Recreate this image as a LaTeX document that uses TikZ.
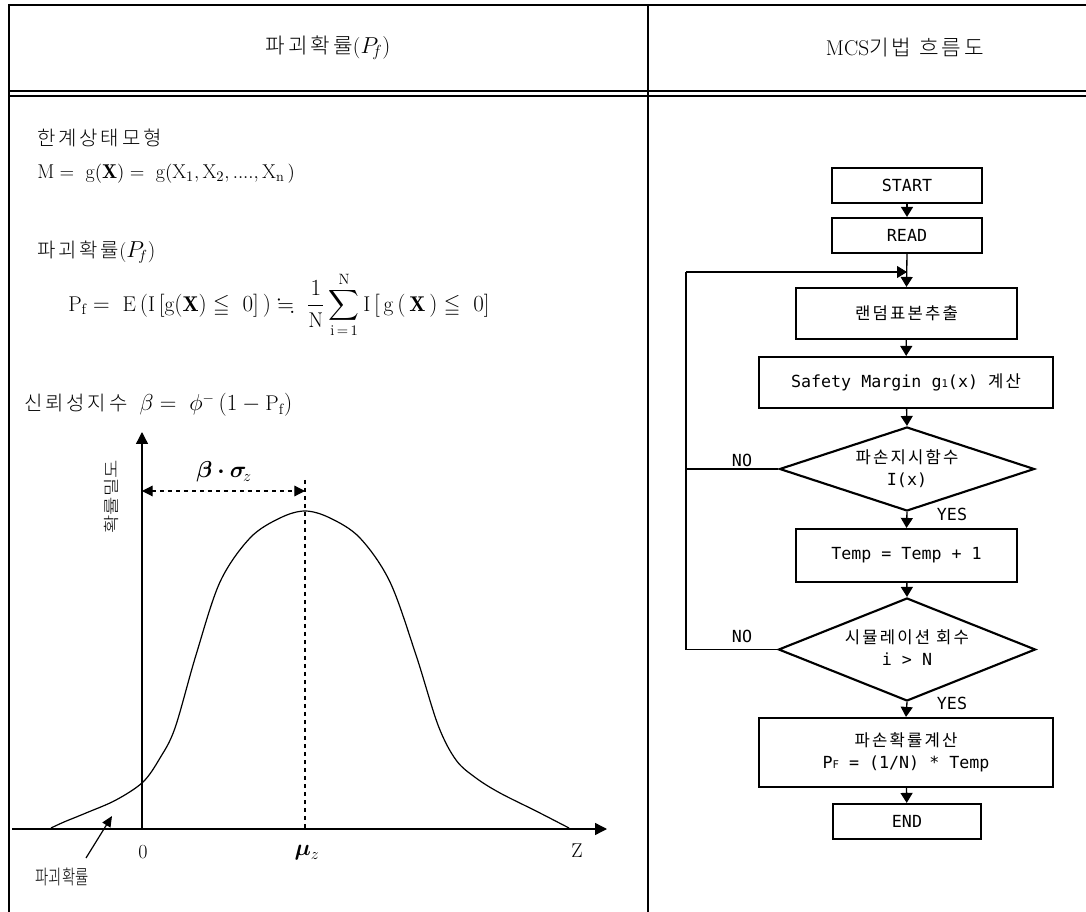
\documentclass[tikz,border=0pt]{standalone}
\usepackage{amsmath,amssymb,bm}
\usepackage{fontspec}
\newfontfamily\kr[LetterSpace=14]{Noto Sans CJK KR Light}
\newfontfamily\krn{Noto Sans CJK KR Light}
\newfontfamily\fk[LetterSpace=13]{Noto Sans CJK KR}
\newfontfamily\fm{DejaVu Sans Mono}
\usetikzlibrary{arrows.meta,shapes.geometric}
\begin{document}
\begin{tikzpicture}[x=0.75pt,y=-0.75pt,
  tblthick/.style={line width=2.2pt},
  tblthin/.style={line width=0.9pt},
  txt/.style={inner sep=0pt,font=\fontsize{15}{18}\selectfont},
  hdr/.style={inner sep=0pt,font=\fontsize{16}{19}\selectfont},
  mth/.style={inner sep=0pt,font=\fontsize{15}{18}\selectfont},
  axisarr/.style={line width=1pt,-{Triangle[width=9pt,length=9pt]}},
  dimarr/.style={line width=0.9pt,dashed,{Triangle[width=8pt,length=8pt]}-{Triangle[width=8pt,length=8pt]}},
  fbox/.style={draw,line width=1.6pt,inner sep=0pt,font=\fontsize{12.5}{16.5}\selectfont,align=center},
  dmd/.style={draw,diamond,line width=1.6pt,inner sep=0pt},
  ftxt/.style={inner sep=0pt,font=\fontsize{12.5}{16.5}\selectfont,align=center},
  flowarr/.style={line width=1pt,-{Triangle[width=9pt,length=7.5pt]}},
  loopline/.style={line width=0.8pt}
]
\useasboundingbox (0,0) rectangle (1086,912);
% table
\draw[tblthick] (8,5) -- (1086,5);
\draw[tblthick] (9,4) -- (9,912);
\draw[tblthin] (9,91) -- (1086,91);
\draw[tblthin] (9,96) -- (1086,96);
\draw[line width=0.8pt] (648,5) -- (648,912);
% headers
\node[hdr] (h1) at (328,48) {{\kr 파괴확률}(\fontsize{17}{19}\selectfont$P_{\!f}$)};
\node[hdr] (h2) at (905,48) {MCS{\kr 기법 흐름도}};
% left texts
\node[txt,anchor=west] (t1) at (37,138) {\kr 한계상태모형};
\node[mth,anchor=west] (f1) at (37,174) {$\mathrm{M}=\ \mathrm{g}(\mathbf{X})=\ \mathrm{g}(\mathrm{X}_1,\mathrm{X}_2,....,\mathrm{X}_\mathrm{n}\,)$};
\node[txt,anchor=west] (t2) at (37,252) {{\kr 파괴확률}(\fontsize{16}{18}\selectfont$P_{\!f}$)};
\node[inner sep=0pt,font=\fontsize{16}{19}\selectfont,anchor=west] (f2) at (68,305) {$\displaystyle \mathrm{P_f}=\ \mathrm{E}\,(\mathrm{I}\,[\mathrm{g}(\mathbf{X})\leqq\ 0]\,)\fallingdotseq\ \frac{1}{\mathrm{N}}\sum_{\mathrm{i}\,=\,1}^{\mathrm{N}}\mathrm{I}\,[\,\mathrm{g}\,(\,\mathbf{X}\,)\leqq\ 0]$};
\node[txt,anchor=west] (t3) at (24,405) {{\kr 신뢰성지수}\ \ \fontsize{16}{18}\selectfont$\beta=\ \phi^{-}\,(1-\mathrm{P_f})$};
% axes
\coordinate (xs) at (12,829);
\coordinate (xe) at (607,829);
\coordinate (ys) at (142,829);
\coordinate (ye) at (142,432);
\draw[axisarr] (xs) -- (xe);
\draw[axisarr] (ys) -- (ye);
% curve
\draw[line width=0.9pt] plot[smooth,tension=0.55] coordinates {(51,828) (64,822) (86,813) (116,800) (143,782) (160,758) (175,728) (196,655) (220,582) (250,538) (280,518) (305,511) (330,518) (360,538) (390,582) (416,655) (438,725) (456,760) (476,778) (500,793) (536,811) (569,828)};
% dashed
\coordinate (mtop) at (305,480);
\coordinate (mbot) at (305,829);
\draw[line width=0.9pt,dashed] (mtop) -- (mbot);
\coordinate (da) at (142,491);
\coordinate (db) at (305,491);
\draw[dimarr] (da) -- (db);
% labels
\node[inner sep=0pt,font=\fontsize{17}{20}\selectfont] (bs) at (224,472) {$\bm{\beta\cdot\sigma}_{\!z}$};
\node[inner sep=0pt,font=\fontsize{15}{18}\selectfont] (zero) at (143,852) {0};
\node[inner sep=0pt,font=\fontsize{18}{20}\selectfont] (mu) at (307,853) {$\bm{\mu}_{z}$};
\node[inner sep=0pt,font=\fontsize{15}{18}\selectfont] (zl) at (577,851) {Z};
\node[inner sep=0pt,rotate=90,font=\fontsize{15}{16}\selectfont] (ylab) at (111,497) {\scalebox{1}[0.8]{\krn 확률밀도}};
\coordinate (fa) at (86,858);
\coordinate (fb) at (112,816);
\draw[line width=0.9pt,-{Triangle[width=7pt,length=8pt]}] (fa) -- (fb);
\node[inner sep=0pt,font=\fontsize{15}{16}\selectfont] (ff) at (62,877) {\scalebox{0.72}[1]{\krn 파괴확률}};
% flowchart
\node[fbox,minimum width=112.5pt,minimum height=26.25pt] (start) at (907,185.5) {\fm START};
\node[fbox,minimum width=112.5pt,minimum height=26.25pt] (read) at (907,235.5) {\fm READ};
\node[fbox,minimum width=165.75pt,minimum height=38.25pt] (rand) at (906.5,313.5) {\fk 랜덤표본추출};
\node[fbox,minimum width=220.5pt,minimum height=38.25pt] (safe) at (906,382.5) {{\fm Safety Margin g{\fontsize{8}{8}\selectfont 1}(x) }{\fk 계산}};
\node[dmd,minimum width=191.25pt,minimum height=63pt] (d1) at (907,469) {};
\node[ftxt] (d1t) at (907,469) {{\fk 파손지시함수}\\{\fm I(x)}};
\node[fbox,minimum width=165.75pt,minimum height=39.75pt] (temp) at (906.5,555.5) {\fm Temp = Temp + 1};
\node[dmd,minimum width=192.75pt,minimum height=77.25pt] (d2) at (907,649.5) {};
\node[ftxt] (d2t) at (907,648) {{\fk 시뮬레이션 회수}\\{\fm i > N}};
\node[fbox,minimum width=220.5pt,minimum height=51.75pt] (pf) at (906,752.5) {{\fk 파손확률계산}\\{\fm P{\fontsize{8}{8}\selectfont F} = (1/N) * Temp}};
\node[fbox,minimum width=111pt,minimum height=26.25pt] (end) at (907,821.5) {\fm END};
\draw[flowarr] (start) -- (read);
\coordinate (l1) at (686,272);
\coordinate (j) at (read.south |- l1);
\draw[flowarr] (read.south) -- (rand.north);
\draw[flowarr] (rand) -- (safe);
\draw[flowarr] (safe) -- (d1.north);
\draw[flowarr] (d1.south) -- (temp.north);
\draw[flowarr] (temp) -- (d2.north);
\draw[flowarr] (d2.south) -- (pf.north);
\draw[flowarr] (pf) -- (end);
\coordinate (l2) at (d2.west -| l1);
\draw[loopline] (d1.west) -- (d1.west -| l1);
\draw[loopline] (d2.west) -- (l2) -- (l1);
\draw[loopline,-{Triangle[width=9pt,length=7.5pt]}] (l1) -- (j);
\node[ftxt] (no1) at (742,460) {\fm NO};
\node[ftxt] (no2) at (742,636) {\fm NO};
\node[ftxt] (yes1) at (952,514) {\fm YES};
\node[ftxt] (yes2) at (952,703) {\fm YES};
\end{tikzpicture}
\end{document}
